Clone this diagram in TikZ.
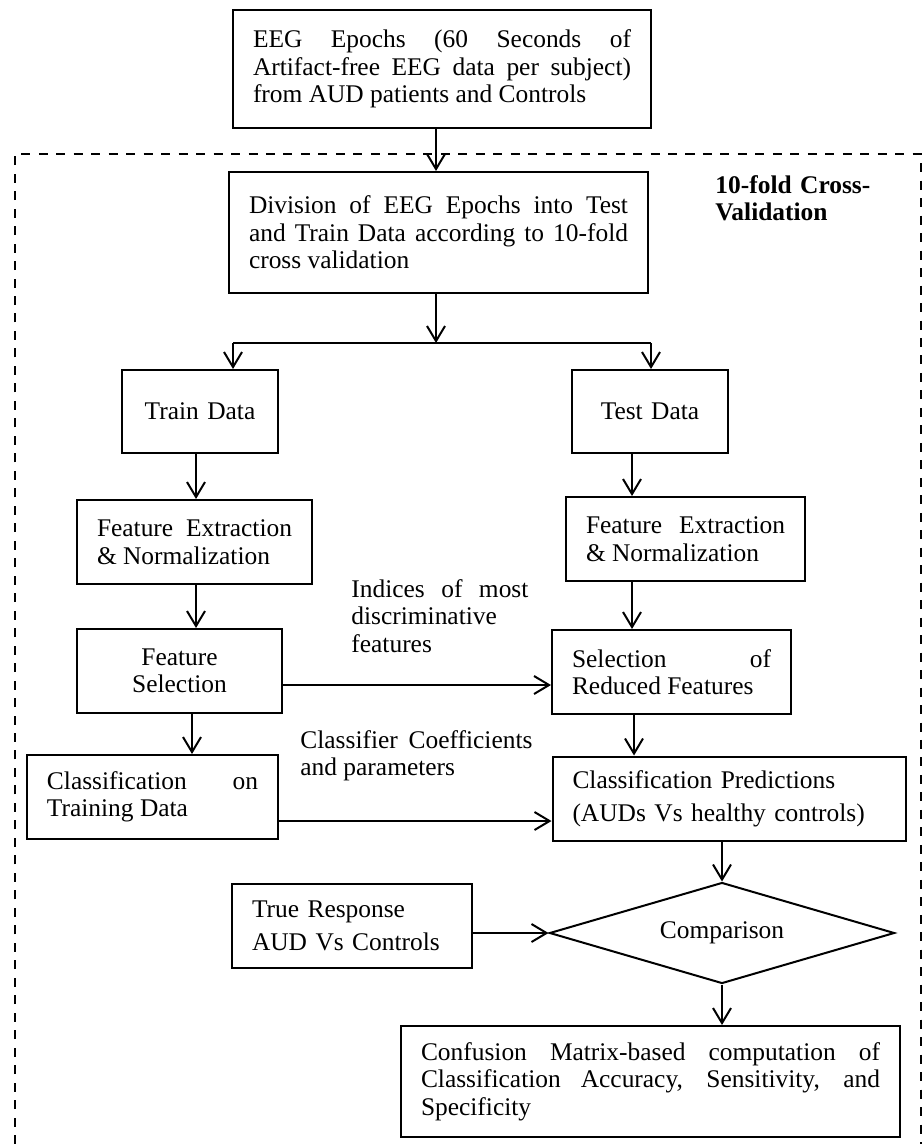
\documentclass[tikz,border=0pt]{standalone}
\usepackage{fontspec}
\setmainfont{Liberation Serif}
\usetikzlibrary{arrows.meta,shapes.geometric}
\newdimen\px
\px=0.472pt
\tolerance=10000
\hyphenpenalty=10000
\exhyphenpenalty=10000
\tikzset{
  >={Straight Barb[length=7.1pt,width=8.5pt]},
  x=0.472pt,y=-0.472pt,
}
\tikzstyle{block}=[draw,line width=2\px,inner xsep=20\px,inner ysep=0pt,minimum height=84\px,align=justify]
\tikzstyle{flow}=[line width=2\px,->]
\tikzstyle{frame}=[line width=2\px,dash pattern=on 4.25pt off 4pt]
\tikzstyle{note}=[inner sep=0pt,align=justify,anchor=base west]
\tikzstyle{every node}=[font=\fontsize{12}{13}\selectfont]

\begin{document}
\begin{tikzpicture}
    \useasboundingbox (0,0) rectangle (923,1144);
    \draw[frame] (15,1144)--(15,154)--(921,154)--(921,1144);
    \node[block,text width=378\px,minimum height=118\px] (epochs) at (442,69)
    {EEG Epochs (60 Seconds of\linebreak Artifact-free EEG data per subject)\linebreak from AUD patients and Controls};
    \node[block,text width=379\px,minimum height=121\px] (division) at (438.5,232.5)
    {Division of EEG Epochs into Test\linebreak and Train Data according to 10-fold\linebreak cross validation};
    \node[note,align=left,text width=170\px,font=\fontsize{12}{13}\selectfont\bfseries] (cvtitle) at (715,193) {10-fold Cross-\\Validation};
    \coordinate (split) at (436,343);
    \coordinate (splitL) at (233,343);
    \coordinate (splitR) at (651,343);
    \node[block,align=center,text width=116\px,minimum height=83\px] (train) at (200,411.5) {Train Data};
    \node[block,align=center,text width=116\px,minimum height=83\px] (test) at (650,411.5) {Test Data};
    \node[block,text width=195\px] (featL) at (194.5,542) {Feature Extraction\linebreak \& Normalization};
    \node[block,text width=199\px] (featR) at (685.5,539) {Feature Extraction\linebreak \& Normalization};
    \node[block,align=center,text width=165\px] (fsel) at (179.5,671) {Feature\\Selection};
    \node[block,text width=199\px] (rsel) at (671.5,672) {Selection of\linebreak Reduced Features};
    \node[note,text width=177\px] (indices) at (351,597) {Indices of most\linebreak discriminative features};
    \node[note,text width=232\px] (coeffs) at (300,748) {Classifier Coefficients\linebreak and parameters};
    \node[block,text width=211\px] (ctrain) at (152.5,797) {Classification on\linebreak Training Data};
    \node[block,align=left,text width=313\px,font=\fontsize{12}{15.6}\selectfont] (cpred) at (729,798.5)
    {Classification Predictions\\(AUDs Vs healthy controls)};
    \node[draw,diamond,aspect=3.4,line width=2\px,minimum width=345\px,minimum height=101\px,inner sep=0pt] (compare) at (722,933) {Comparison};
    \node[block,align=left,text width=200\px,font=\fontsize{12}{15.6}\selectfont] (truth) at (352,925.5)
    {True Response\\AUD Vs Controls};
    \node[block,text width=459\px,minimum height=111\px] (confusion) at (650.5,1081.5)
    {Confusion Matrix-based computation of\linebreak Classification Accuracy, Sensitivity, and\linebreak Specificity};
    \draw[flow] (436,0 |- epochs.south) -- (436,0 |- division.north);
    \draw[flow] (436,0 |- division.south) -- (split);
    \draw[line width=2\px] (splitL) -- (splitR);
    \draw[flow] (splitL) -- (splitL |- train.north);
    \draw[flow] (splitR) -- (splitR |- test.north);
    \draw[flow] (196,0 |- train.south) -- (196,0 |- featL.north);
    \draw[flow] (632,0 |- test.south) -- (632,0 |- featR.north);
    \draw[flow] (196,0 |- featL.south) -- (196,0 |- fsel.north);
    \draw[flow] (632,0 |- featR.south) -- (632,0 |- rsel.north);
    \draw[flow] (fsel.east |- 0,685) -- (rsel.west |- 0,685);
    \draw[flow] (192,0 |- fsel.south) -- (192,0 |- ctrain.north);
    \draw[flow] (634,0 |- rsel.south) -- (634,0 |- cpred.north);
    \draw[flow] (ctrain.east |- 0,821) -- (cpred.west |- 0,821);
    \draw[flow] (compare.north |- cpred.south) -- (compare.north);
    \draw[flow] (truth.east |- compare.west) -- (compare.west);
    \draw[flow] (compare.south) -- (compare.south |- confusion.north);
\end{tikzpicture}
\end{document}
